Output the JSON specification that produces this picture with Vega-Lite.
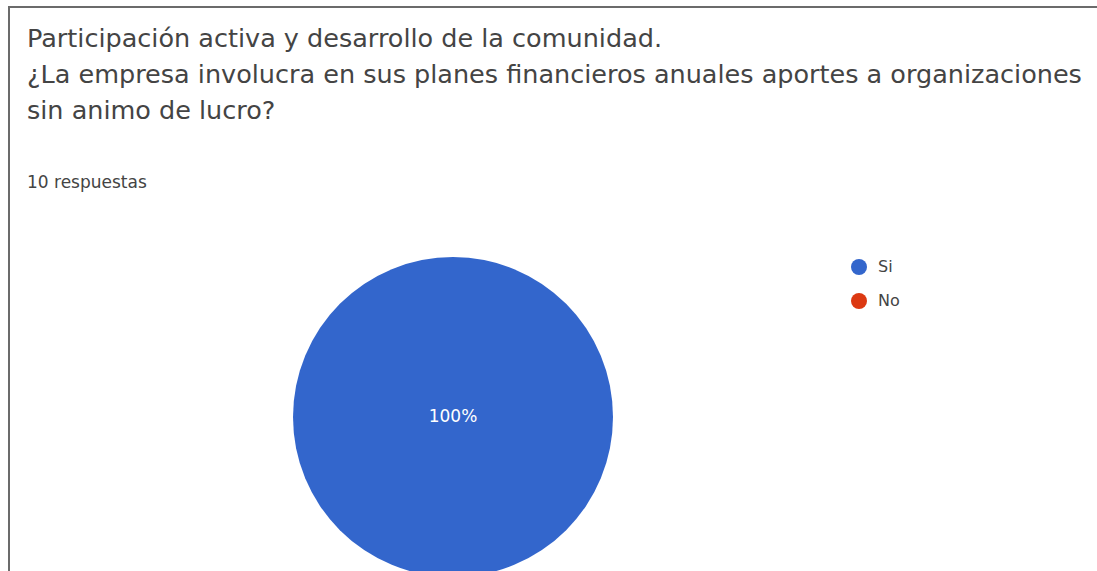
{
  "$schema": "https://vega.github.io/schema/vega-lite/v6.json",
  "autosize": {"type": "none"},
  "width": 888,
  "height": 820,
  "padding": {"left": 9, "top": 7, "right": 200, "bottom": -256},
  "background": "white",
  "view": {"stroke": "#6b6b6b", "strokeWidth": 2, "strokeDash": [888, 1708, 820]},
  "config": {
    "style": {"view": {"stroke": "#6b6b6b", "strokeWidth": 2, "strokeDash": [888, 1708, 820]}},
    "font": "DejaVu Sans"
  },
  "title": {
    "text": ["Participación activa y desarrollo de la comunidad.", "¿La empresa involucra en sus planes financieros anuales aportes a organizaciones", "sin animo de lucro?"],
    "subtitle": "10 respuestas",
    "anchor": "start",
    "frame": "group",
    "orient": "top",
    "baseline": "top",
    "offset": -185,
    "dx": 18,
    "font": "DejaVu Sans",
    "fontSize": 25.5,
    "fontWeight": "normal",
    "lineHeight": 36,
    "color": "#444444",
    "subtitleFont": "DejaVu Sans",
    "subtitleFontSize": 17,
    "subtitleColor": "#444444",
    "subtitlePadding": 51
  },
  "data": {
    "values": [
      {"respuesta": "Si", "count": 10, "pct": 1.0},
      {"respuesta": "No", "count": 0, "pct": 0.0}
    ]
  },
  "layer": [
    {
      "mark": {"type": "arc", "radius": 160},
      "encoding": {
        "theta": {"field": "count", "type": "quantitative", "stack": true},
        "color": {
          "field": "respuesta",
          "type": "nominal",
          "sort": ["Si", "No"],
          "scale": {"domain": ["Si", "No"], "range": ["#3366CC", "#DC3912"]},
          "legend": {
            "title": null,
            "orient": "none",
            "legendX": 590,
            "legendY": 0,
            "padding": 252,
            "symbolType": "circle",
            "symbolSize": 256,
            "symbolStrokeWidth": 0,
            "rowPadding": 18,
            "labelOffset": 11,
            "labelFont": "DejaVu Sans",
            "labelFontSize": 16,
            "labelColor": "#444444",
            "encode": {
              "legend": {
                "update": {
                  "stroke": {"value": "#6b6b6b"},
                  "strokeWidth": {"value": 2},
                  "strokeDash": {"value": [600, 100000]}
                }
              }
            }
          }
        }
      }
    },
    {
      "transform": [{"filter": "datum.pct > 0"}],
      "mark": {"type": "text", "radius": 0, "color": "white", "font": "DejaVu Sans", "fontSize": 17},
      "encoding": {
        "theta": {"field": "count", "type": "quantitative", "stack": true},
        "text": {"field": "pct", "type": "quantitative", "format": ".0%"}
      }
    }
  ]
}
